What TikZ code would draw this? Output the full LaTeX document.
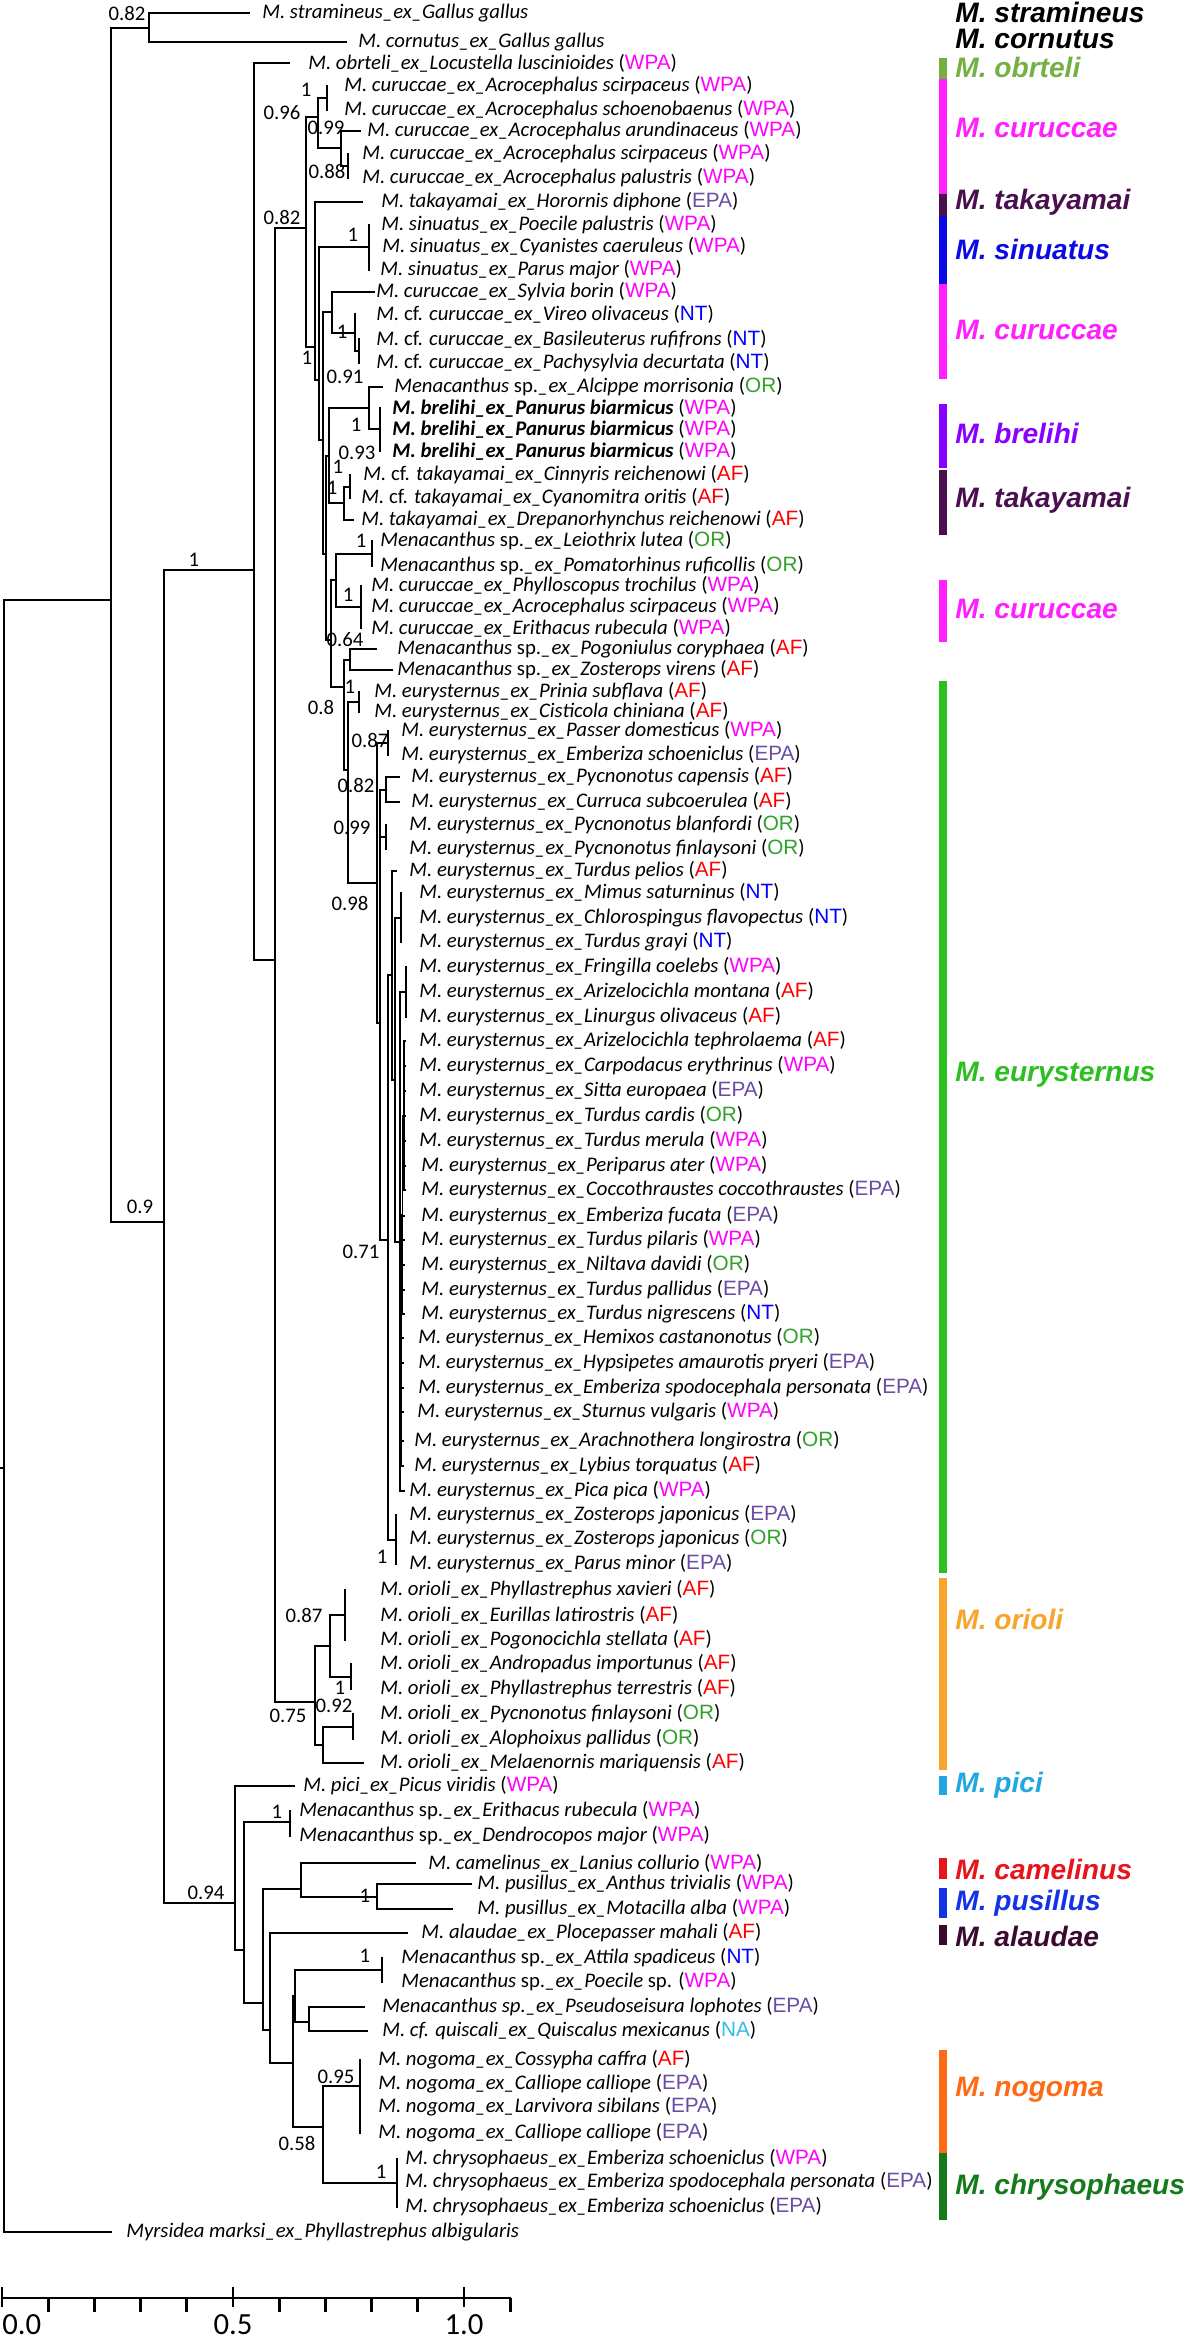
\documentclass[tikz,border=0pt]{standalone}
\usepackage{fontspec}
\setmainfont{Carlito}
\newfontfamily\arialfont{Liberation Sans}
% region colours
\definecolor{cwpa}{RGB}{255,0,255}
\definecolor{cepa}{RGB}{106,76,165}
\definecolor{cnt}{RGB}{0,0,255}
\definecolor{caf}{RGB}{255,0,0}
\definecolor{cor}{RGB}{51,160,44}
\definecolor{cna}{RGB}{51,187,238}
% clade colours
\definecolor{kobr}{RGB}{118,176,67}
\definecolor{kcur}{RGB}{255,31,255}
\definecolor{ktak}{RGB}{74,15,79}
\definecolor{ksin}{RGB}{10,10,230}
\definecolor{kbre}{RGB}{136,0,255}
\definecolor{keur}{RGB}{43,191,31}
\definecolor{kori}{RGB}{247,165,43}
\definecolor{kpic}{RGB}{34,167,224}
\definecolor{kcam}{RGB}{232,20,28}
\definecolor{kpus}{RGB}{20,50,230}
\definecolor{kala}{RGB}{58,11,46}
\definecolor{knog}{RGB}{255,106,20}
\definecolor{kchr}{RGB}{21,122,28}
\newcommand{\rg}[2]{{\upshape(\textcolor{#1}{\arialfont #2})}}
\newcommand{\rWPA}{\rg{cwpa}{WPA}}
\newcommand{\rEPA}{\rg{cepa}{EPA}}
\newcommand{\rNT}{\rg{cnt}{NT}}
\newcommand{\rAF}{\rg{caf}{AF}}
\newcommand{\rOR}{\rg{cor}{OR}}
\newcommand{\rNA}{\rg{cna}{NA}}
\newcommand{\up}[1]{{\upshape #1}}
\tikzset{
  branch/.style={line width=1pt, line cap=rect},
  leaf/.style={anchor=west, inner sep=0pt, font=\fontsize{11.8}{13}\selectfont\itshape},
  supp/.style={inner sep=0pt, font=\fontsize{11.8}{13}\selectfont},
  clade/.style={anchor=west, inner sep=0pt, font=\arialfont\bfseries\itshape\fontsize{16}{19}\selectfont},
  ticklab/.style={inner sep=0pt, font=\fontsize{17.5}{20}\selectfont},
  axisline/.style={line width=1.6pt}
}
\begin{document}
\begin{tikzpicture}[x=0.2mm,y=-0.2mm]
  \fill[white] (0,0) rectangle (1200,2340);
  \useasboundingbox (0,0) rectangle (1200,2340);
  % tips and taxon labels
  \foreach \i/\tx/\lx/\y/\txt in {
    1/249/262/13/{M. stramineus\_ex\_Gallus gallus},
    2/346/358/42/{M. cornutus\_ex\_Gallus gallus},
    3/289/308/63/{M. obrteli\_ex\_Locustella luscinioides \rWPA},
    4/327/344/86/{M. curuccae\_ex\_Acrocephalus scirpaceus \rWPA},
    5/327/344/110/{M. curuccae\_ex\_Acrocephalus schoenobaenus \rWPA},
    6/360/367/131/{M. curuccae\_ex\_Acrocephalus arundinaceus \rWPA},
    7/348/362/154/{M. curuccae\_ex\_Acrocephalus scirpaceus \rWPA},
    8/348/362/178/{M. curuccae\_ex\_Acrocephalus palustris \rWPA},
    9/362/381/202/{M. takayamai\_ex\_Horornis diphone \rEPA},
    10/369/381/225/{M. sinuatus\_ex\_Poecile palustris \rWPA},
    11/369/382/247/{M. sinuatus\_ex\_Cyanistes caeruleus \rWPA},
    12/369/380/270/{M. sinuatus\_ex\_Parus major \rWPA},
    13/374/376/292/{M. curuccae\_ex\_Sylvia borin \rWPA},
    14/355/376/314/{M. \up{cf.} curuccae\_ex\_Vireo olivaceus \rNT},
    15/359/376/339/{M. \up{cf.} curuccae\_ex\_Basileuterus rufifrons \rNT},
    16/359/376/363/{M. \up{cf.} curuccae\_ex\_Pachysylvia decurtata \rNT},
    17/382/394/387/{Menacanthus \up{sp.}\_ex\_Alcippe morrisonia \rOR},
    18/380/392/408/{{\bfseries M. brelihi\_ex\_Panurus biarmicus} \rWPA},
    19/380/392/429/{{\bfseries M. brelihi\_ex\_Panurus biarmicus} \rWPA},
    20/380/392/451/{{\bfseries M. brelihi\_ex\_Panurus biarmicus} \rWPA},
    21/350/363/475/{M. \up{cf.} takayamai\_ex\_Cinnyris reichenowi \rAF},
    22/350/361/498/{M. \up{cf.} takayamai\_ex\_Cyanomitra oritis \rAF},
    23/353/361/520/{M. takayamai\_ex\_Drepanorhynchus reichenowi \rAF},
    24/372/380/541/{Menacanthus \up{sp.}\_ex\_Leiothrix lutea \rOR},
    25/372/380/566/{Menacanthus \up{sp.}\_ex\_Pomatorhinus ruficollis \rOR},
    26/361/371/586/{M. curuccae\_ex\_Phylloscopus trochilus \rWPA},
    27/361/371/607/{M. curuccae\_ex\_Acrocephalus scirpaceus \rWPA},
    28/361/371/628/{M. curuccae\_ex\_Erithacus rubecula \rWPA},
    29/376/397/649/{Menacanthus \up{sp.}\_ex\_Pogoniulus coryphaea \rAF},
    30/392/397/670/{Menacanthus \up{sp.}\_ex\_Zosterops virens \rAF},
    31/359/374/692/{M. eurysternus\_ex\_Prinia subflava \rAF},
    32/359/374/712/{M. eurysternus\_ex\_Cisticola chiniana \rAF},
    33/388/401/731/{M. eurysternus\_ex\_Passer domesticus \rWPA},
    34/388/401/755/{M. eurysternus\_ex\_Emberiza schoeniclus \rEPA},
    35/399/411/777/{M. eurysternus\_ex\_Pycnonotus capensis \rAF},
    36/399/411/802/{M. eurysternus\_ex\_Curruca subcoerulea \rAF},
    37/386/409/825/{M. eurysternus\_ex\_Pycnonotus blanfordi \rOR},
    38/386/409/849/{M. eurysternus\_ex\_Pycnonotus finlaysoni \rOR},
    39/396/409/871/{M. eurysternus\_ex\_Turdus pelios \rAF},
    40/401/419/893/{M. eurysternus\_ex\_Mimus saturninus \rNT},
    41/401/419/918/{M. eurysternus\_ex\_Chlorospingus flavopectus \rNT},
    42/401/419/942/{M. eurysternus\_ex\_Turdus grayi \rNT},
    43/406/419/967/{M. eurysternus\_ex\_Fringilla coelebs \rWPA},
    44/406/419/992/{M. eurysternus\_ex\_Arizelocichla montana \rAF},
    45/406/419/1017/{M. eurysternus\_ex\_Linurgus olivaceus \rAF},
    46/405/419/1041/{M. eurysternus\_ex\_Arizelocichla tephrolaema \rAF},
    47/405/419/1066/{M. eurysternus\_ex\_Carpodacus erythrinus \rWPA},
    48/405/419/1091/{M. eurysternus\_ex\_Sitta europaea \rEPA},
    49/405/419/1116/{M. eurysternus\_ex\_Turdus cardis \rOR},
    50/405/419/1141/{M. eurysternus\_ex\_Turdus merula \rWPA},
    51/405/421/1166/{M. eurysternus\_ex\_Periparus ater \rWPA},
    52/405/421/1190/{M. eurysternus\_ex\_Coccothraustes coccothraustes \rEPA},
    53/404/421/1216/{M. eurysternus\_ex\_Emberiza fucata \rEPA},
    54/404/421/1240/{M. eurysternus\_ex\_Turdus pilaris \rWPA},
    55/404/421/1265/{M. eurysternus\_ex\_Niltava davidi \rOR},
    56/404/421/1290/{M. eurysternus\_ex\_Turdus pallidus \rEPA},
    57/404/421/1314/{M. eurysternus\_ex\_Turdus nigrescens \rNT},
    58/403/418/1338/{M. eurysternus\_ex\_Hemixos castanonotus \rOR},
    59/403/418/1363/{M. eurysternus\_ex\_Hypsipetes amaurotis pryeri \rEPA},
    60/403/418/1388/{M. eurysternus\_ex\_Emberiza spodocephala personata \rEPA},
    61/403/417/1412/{M. eurysternus\_ex\_Sturnus vulgaris \rWPA},
    62/403/414/1441/{M. eurysternus\_ex\_Arachnothera longirostra \rOR},
    63/403/414/1466/{M. eurysternus\_ex\_Lybius torquatus \rAF},
    64/404/409/1491/{M. eurysternus\_ex\_Pica pica \rWPA},
    65/396/409/1515/{M. eurysternus\_ex\_Zosterops japonicus \rEPA},
    66/396/409/1539/{M. eurysternus\_ex\_Zosterops japonicus \rOR},
    67/396/409/1564/{M. eurysternus\_ex\_Parus minor \rEPA},
    68/345/380/1590/{M. orioli\_ex\_Phyllastrephus xavieri \rAF},
    69/345/380/1615/{M. orioli\_ex\_Eurillas latirostris \rAF},
    70/345/380/1640/{M. orioli\_ex\_Pogonocichla stellata \rAF},
    71/351/380/1664/{M. orioli\_ex\_Andropadus importunus \rAF},
    72/351/380/1689/{M. orioli\_ex\_Phyllastrephus terrestris \rAF},
    73/353/380/1714/{M. orioli\_ex\_Pycnonotus finlaysoni \rOR},
    74/353/380/1739/{M. orioli\_ex\_Alophoixus pallidus \rOR},
    75/363/380/1763/{M. orioli\_ex\_Melaenornis mariquensis \rAF},
    76/294/303/1786/{M. pici\_ex\_Picus viridis \rWPA},
    77/290/299/1811/{Menacanthus \up{sp.}\_ex\_Erithacus rubecula \rWPA},
    78/290/299/1836/{Menacanthus \up{sp.}\_ex\_Dendrocopos major \rWPA},
    79/415/428/1863/{M. camelinus\_ex\_Lanius collurio \rWPA},
    80/471/477/1884/{M. pusillus\_ex\_Anthus trivialis \rWPA},
    81/452/477/1909/{M. pusillus\_ex\_Motacilla alba \rWPA},
    82/407/421/1933/{M. alaudae\_ex\_Plocepasser mahali \rAF},
    83/382/401/1958/{Menacanthus \up{sp.}\_ex\_Attila spadiceus \rNT},
    84/382/401/1982/{Menacanthus \up{sp.}\_ex\_Poecile \up{sp.} \rWPA},
    85/364/382/2007/{Menacanthus sp.\_ex\_Pseudoseisura lophotes \rEPA},
    86/367/382/2031/{M. cf. quiscali\_ex\_Quiscalus mexicanus \rNA},
    87/360/378/2060/{M. nogoma\_ex\_Cossypha caffra \rAF},
    88/360/378/2084/{M. nogoma\_ex\_Calliope calliope \rEPA},
    89/360/378/2107/{M. nogoma\_ex\_Larvivora sibilans \rEPA},
    90/360/378/2133/{M. nogoma\_ex\_Calliope calliope \rEPA},
    91/397/405/2159/{M. chrysophaeus\_ex\_Emberiza schoeniclus \rWPA},
    92/397/405/2182/{M. chrysophaeus\_ex\_Emberiza spodocephala personata \rEPA},
    93/397/405/2207/{M. chrysophaeus\_ex\_Emberiza schoeniclus \rEPA},
    94/111/126/2232/{Myrsidea marksi\_ex\_Phyllastrephus albigularis}}
  { \coordinate (t\i) at (\tx,\y);
    \node[leaf] (l\i) at (\lx,\y) {\txt}; }
  % internal nodes
  \coordinate (rstub) at (0,1468);
  \coordinate (root) at (4,1468);
  \coordinate (b1) at (111,600);
  \coordinate (sc) at (149,28);
  \coordinate (n09) at (164,1222);
  \coordinate (n254) at (254,570);
  \coordinate (n275) at (275,960);
  \coordinate (n306) at (306,228);
  \coordinate (n096) at (318,117);
  \coordinate (n1a) at (327,98);
  \coordinate (n099) at (341,148);
  \coordinate (n088) at (348,166);
  \coordinate (n317) at (315,347);
  \coordinate (n321) at (319,380);
  \coordinate (nsin) at (369,247);
  \coordinate (n324) at (323,440);
  \coordinate (n332) at (332,312);
  \coordinate (nv1) at (355,333);
  \coordinate (n091) at (359,351);
  \coordinate (n325) at (326,554);
  \coordinate (n328) at (329,456);
  \coordinate (na1) at (369,408);
  \coordinate (nb) at (380,429);
  \coordinate (tt2) at (344,503);
  \coordinate (tt1) at (350,487);
  \coordinate (n327) at (331,640);
  \coordinate (lph) at (336,580);
  \coordinate (lp) at (372,554);
  \coordinate (ph) at (361,607);
  \coordinate (n08) at (344,687);
  \coordinate (pz) at (350,660);
  \coordinate (e0) at (348,770);
  \coordinate (pc) at (359,702);
  \coordinate (x377) at (377,883);
  \coordinate (pe) at (388,743);
  \coordinate (x380) at (380,1023);
  \coordinate (n082) at (386,790);
  \coordinate (n099b) at (386,837);
  \coordinate (n071) at (388,1240);
  \coordinate (c392) at (392,975);
  \coordinate (c395) at (395,1080);
  \coordinate (m401) at (401,918);
  \coordinate (c400) at (400,1242);
  \coordinate (f406) at (406,992);
  \coordinate (k403) at (401.5,1341);
  \coordinate (k404) at (402.5,1215);
  \coordinate (k405) at (404,1116);
  \coordinate (zst) at (396,1540);
  \coordinate (ori) at (315,1702);
  \coordinate (o1) at (330,1646);
  \coordinate (x345) at (345,1615);
  \coordinate (atn) at (351,1677);
  \coordinate (o2) at (323,1745);
  \coordinate (p092) at (353,1727);
  \coordinate (n094) at (235,1903);
  \coordinate (n244) at (244,1950);
  \coordinate (men) at (290,1822);
  \coordinate (n263) at (263,2003);
  \coordinate (cp) at (301,1889);
  \coordinate (am) at (377,1897);
  \coordinate (n270) at (270,2030);
  \coordinate (n293) at (293,2063);
  \coordinate (n295) at (295,1996);
  \coordinate (ap) at (382,1970);
  \coordinate (pq) at (309,2022);
  \coordinate (n058) at (323,2127);
  \coordinate (n095) at (360,2086);
  \coordinate (ch) at (397,2183);
  % branches
  \draw[branch] (rstub) -- (root);
  \foreach \a/\b in {root/b1, root/t94, b1/sc, b1/n09, sc/t1, sc/t2,
    n09/n254, n09/n094, n254/t3, n254/n275, n275/n306, n275/ori,
    n306/n096, n306/n317, n096/n1a, n096/n099, n1a/t4, n1a/t5,
    n099/t6, n099/n088, n088/t7, n088/t8,
    n317/t9, n317/n321, n321/nsin, n321/n324, nsin/t10, nsin/t11, nsin/t12,
    n324/n332, n324/n325, n332/t13, n332/nv1, nv1/t14, nv1/n091, n091/t15, n091/t16,
    n325/n328, n325/n327, n328/na1, n328/tt2, na1/t17, na1/nb, nb/t18, nb/t19, nb/t20,
    tt2/tt1, tt2/t23, tt1/t21, tt1/t22,
    n327/lph, n327/n08, lph/lp, lph/ph, lp/t24, lp/t25, ph/t26, ph/t27, ph/t28,
    n08/pz, n08/e0, pz/t29, pz/t30, e0/pc, e0/x377, pc/t31, pc/t32,
    x377/pe, x377/x380, pe/t33, pe/t34,
    x380/n082, x380/n099b, x380/n071, n082/t35, n082/t36, n099b/t37, n099b/t38,
    n071/c392, n071/zst, c392/t39, c392/c395,
    c395/m401, c395/c400, m401/t40, m401/t41, m401/t42,
    c400/f406, c400/k403, c400/t64, f406/t43, f406/t44, f406/t45,
    k403/k404, k404/k405,
    k405/t46, k405/t47, k405/t48, k405/t49, k405/t50, k405/t51, k405/t52,
    k404/t53, k404/t54, k404/t55, k404/t56, k404/t57,
    k403/t58, k403/t59, k403/t60, k403/t61, k403/t62, k403/t63,
    zst/t65, zst/t66, zst/t67,
    ori/o1, ori/o2, o1/x345, o1/atn, x345/t68, x345/t69, x345/t70, atn/t71, atn/t72,
    o2/p092, o2/t75, p092/t73, p092/t74,
    n094/t76, n094/n244, n244/men, n244/n263, men/t77, men/t78,
    n263/cp, n263/n270, cp/t79, cp/am, am/t80, am/t81,
    n270/t82, n270/n293, n293/n295, n293/n058,
    n295/ap, n295/pq, ap/t83, ap/t84, pq/t85, pq/t86,
    n058/n095, n058/ch, n095/t87, n095/t88, n095/t89, n095/t90,
    ch/t91, ch/t92, ch/t93}
    \draw[branch] (\a) |- (\b);
  % support values
  \foreach \x/\y/\s [count=\k] in {127/14/0.82, 282/113/0.96, 306/90/1, 326/128/0.99,
    327/172/0.88, 282/217/0.82, 353/235/1, 307/358/1, 342/332/1, 345/377/0.91,
    356/425/1, 357/453/0.93, 338/467/1, 332/488/1, 361/541/1, 348/595/1,
    345/640/0.64, 350/687/1, 321/707/0.8, 370/740/0.87, 356/785/0.82,
    352/828/0.99, 350/903/0.98, 361/1252/0.71, 382/1557/1, 140/1207/0.9,
    194/560/1, 304/1615/0.87, 340/1688/1, 334/1706/0.92, 288/1716/0.75,
    277/1812/1, 365/1896/1, 365/1956/1, 206/1893/0.94, 336/2077/0.95,
    297/2143/0.58, 381/2172/1}
    \node[supp] (s\k) at (\x,\y) {\s};
  % clade bars and names
  \foreach \ya/\yb/\c in {58/79/kobr, 79/194/kcur, 194/216/ktak, 216/284/ksin,
    284/379/kcur, 404/468/kbre, 470/535/ktak, 580/642/kcur, 681/1573/keur,
    1578/1770/kori, 1776/1795/kpic, 1858/1879/kcam, 1888/1918/kpus,
    1925/1945/kala, 2050/2153/knog, 2153/2220/kchr}
    \fill[\c] (939,\ya) rectangle (947,\yb);
  \foreach \y/\c/\nm [count=\k] in {12/black/M. stramineus, 39/black/M. cornutus,
    67/kobr/M. obrteli, 128/kcur/M. curuccae, 202/ktak/M. takayamai,
    249/ksin/M. sinuatus, 330/kcur/M. curuccae, 433/kbre/M. brelihi,
    500/ktak/M. takayamai, 609/kcur/M. curuccae, 1075/keur/M. eurysternus,
    1619/kori/M. orioli, 1785/kpic/M. pici, 1869/kcam/M. camelinus,
    1903/kpus/M. pusillus, 1936/kala/M. alaudae, 2090/knog/M. nogoma,
    2187/kchr/M. chrysophaeus}
    \node[clade, text=\c] (c\k) at (955,\y) {\nm};
  % scale axis
  \draw[axisline] (2,2298) -- (511,2298);
  \foreach \k in {1,2,3,4,6,7,8,9,11}
    \draw[axisline] ({2+46.2*\k},2298) -- ({2+46.2*\k},2312);
  \foreach \k in {0,5,10}
    \draw[axisline] ({2+46.2*\k},2287) -- ({2+46.2*\k},2307);
  \node[ticklab, anchor=west] (a0) at (2,2325) {0.0};
  \node[ticklab] (a5) at (233,2325) {0.5};
  \node[ticklab] (a10) at (464,2325) {1.0};
\end{tikzpicture}
\end{document}
